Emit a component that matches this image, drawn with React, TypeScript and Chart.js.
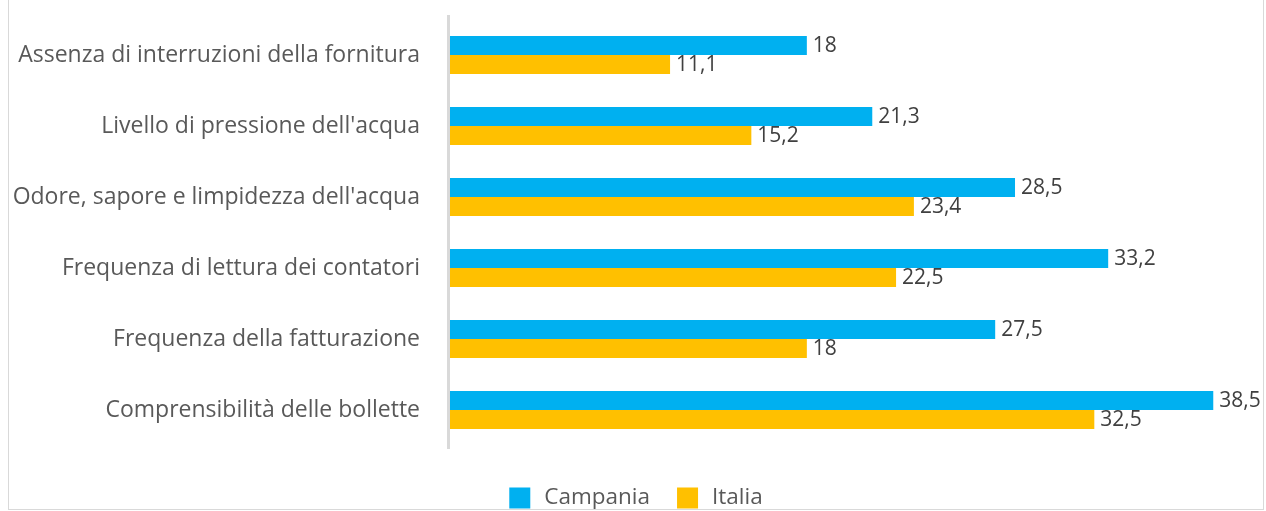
import React, { useEffect, useRef } from "react";
import { Chart, registerables } from "chart.js";

Chart.register(...registerables);

const categories = [
  "Assenza di interruzioni della fornitura",
  "Livello di pressione dell'acqua",
  "Odore, sapore e limpidezza dell'acqua",
  "Frequenza di lettura dei contatori",
  "Frequenza della fatturazione",
  "Comprensibilità delle bollette",
];
const campania = [18, 21.3, 28.5, 33.2, 27.5, 38.5];
const italia = [11.1, 15.2, 23.4, 22.5, 18, 32.5];
const seriesNames = ["Campania", "Italia"];
const seriesColors = ["#00B0F0", "#FFC000"];

const FONT = "'Open Sans', sans-serif";
const fmt = (v: number) => String(v).replace(".", ",");

export default function App() {
  const ref = useRef<HTMLCanvasElement | null>(null);
  useEffect(() => {
    if (!ref.current) return;
    const axisLine = {
      id: "axisLine",
      afterDatasetsDraw(chart: any) {
        const { ctx, chartArea } = chart;
        ctx.save();
        ctx.strokeStyle = "#D9D9D9";
        ctx.lineWidth = 3;
        ctx.beginPath();
        ctx.moveTo(chartArea.left - 1.5, chartArea.top - 4.5);
        ctx.lineTo(chartArea.left - 1.5, chartArea.bottom + 3.5);
        ctx.stroke();
        ctx.restore();
      },
    };
    const dataLabels = {
      id: "dataLabels",
      afterDatasetsDraw(chart: any) {
        const { ctx } = chart;
        ctx.save();
        ctx.font = `21px ${FONT}`;
        ctx.fillStyle = "#404040";
        ctx.textAlign = "left";
        ctx.textBaseline = "middle";
        chart.data.datasets.forEach((ds: any, di: number) => {
          const meta = chart.getDatasetMeta(di);
          meta.data.forEach((bar: any, i: number) => {
            ctx.fillText(fmt(ds.data[i]), bar.x + 6, bar.y + 1);
          });
        });
        ctx.restore();
      },
    };
    const customLegend = {
      id: "customLegend",
      afterDraw(chart: any) {
        const { ctx, width } = chart;
        ctx.save();
        ctx.font = `22.5px ${FONT}`;
        ctx.textBaseline = "middle";
        ctx.textAlign = "left";
        const box = 21, gap = 14, between = 27;
        const widths = seriesNames.map((n) => ctx.measureText(n).width);
        const total = widths.reduce((a, w) => a + box + gap + w, 0) + between * (seriesNames.length - 1);
        let x = width / 2 - total / 2;
        const cy = 507;
        seriesNames.forEach((n, i) => {
          ctx.fillStyle = seriesColors[i];
          ctx.fillRect(x, cy - box / 2, box, box);
          ctx.fillStyle = "#595959";
          ctx.fillText(n, x + box + gap, cy);
          x += box + gap + widths[i] + between;
        });
        ctx.restore();
      },
    };
    const chart = new Chart(ref.current, {
      type: "bar",
      data: {
        labels: categories,
        datasets: [
          { label: seriesNames[0], data: campania, backgroundColor: seriesColors[0], barPercentage: 1, categoryPercentage: 38 / 71 },
          { label: seriesNames[1], data: italia, backgroundColor: seriesColors[1], barPercentage: 1, categoryPercentage: 38 / 71 },
        ],
      },
      options: {
        indexAxis: "y",
        responsive: false,
        animation: false,
        layout: { padding: { top: 28.5, right: 20, bottom: 63.5, left: 0 } },
        plugins: { legend: { display: false }, tooltip: { enabled: false } },
        scales: {
          x: { display: false, min: 0, max: 40 },
          y: {
            afterFit: (s: any) => {
              s.width = 441;
              s.paddingTop = 0;
              s.paddingBottom = 0;
            },
            grid: { display: false, drawTicks: false },
            border: { display: false },
            ticks: { color: "#595959", font: { family: FONT, size: 23 }, padding: 30 },
          },
        },
      },
      plugins: [axisLine, dataLabels, customLegend],
    });
    return () => chart.destroy();
  }, []);
  return (
    <div
      style={{
        position: "absolute",
        left: 8,
        top: -10,
        width: 1256,
        height: 520,
        border: "1px solid #D9D9D9",
        boxSizing: "border-box",
        overflow: "hidden",
        background: "#fff",
      }}
    >
      <canvas ref={ref} width={1254} height={518} style={{ width: 1254, height: 518, display: "block" }} />
    </div>
  );
}
